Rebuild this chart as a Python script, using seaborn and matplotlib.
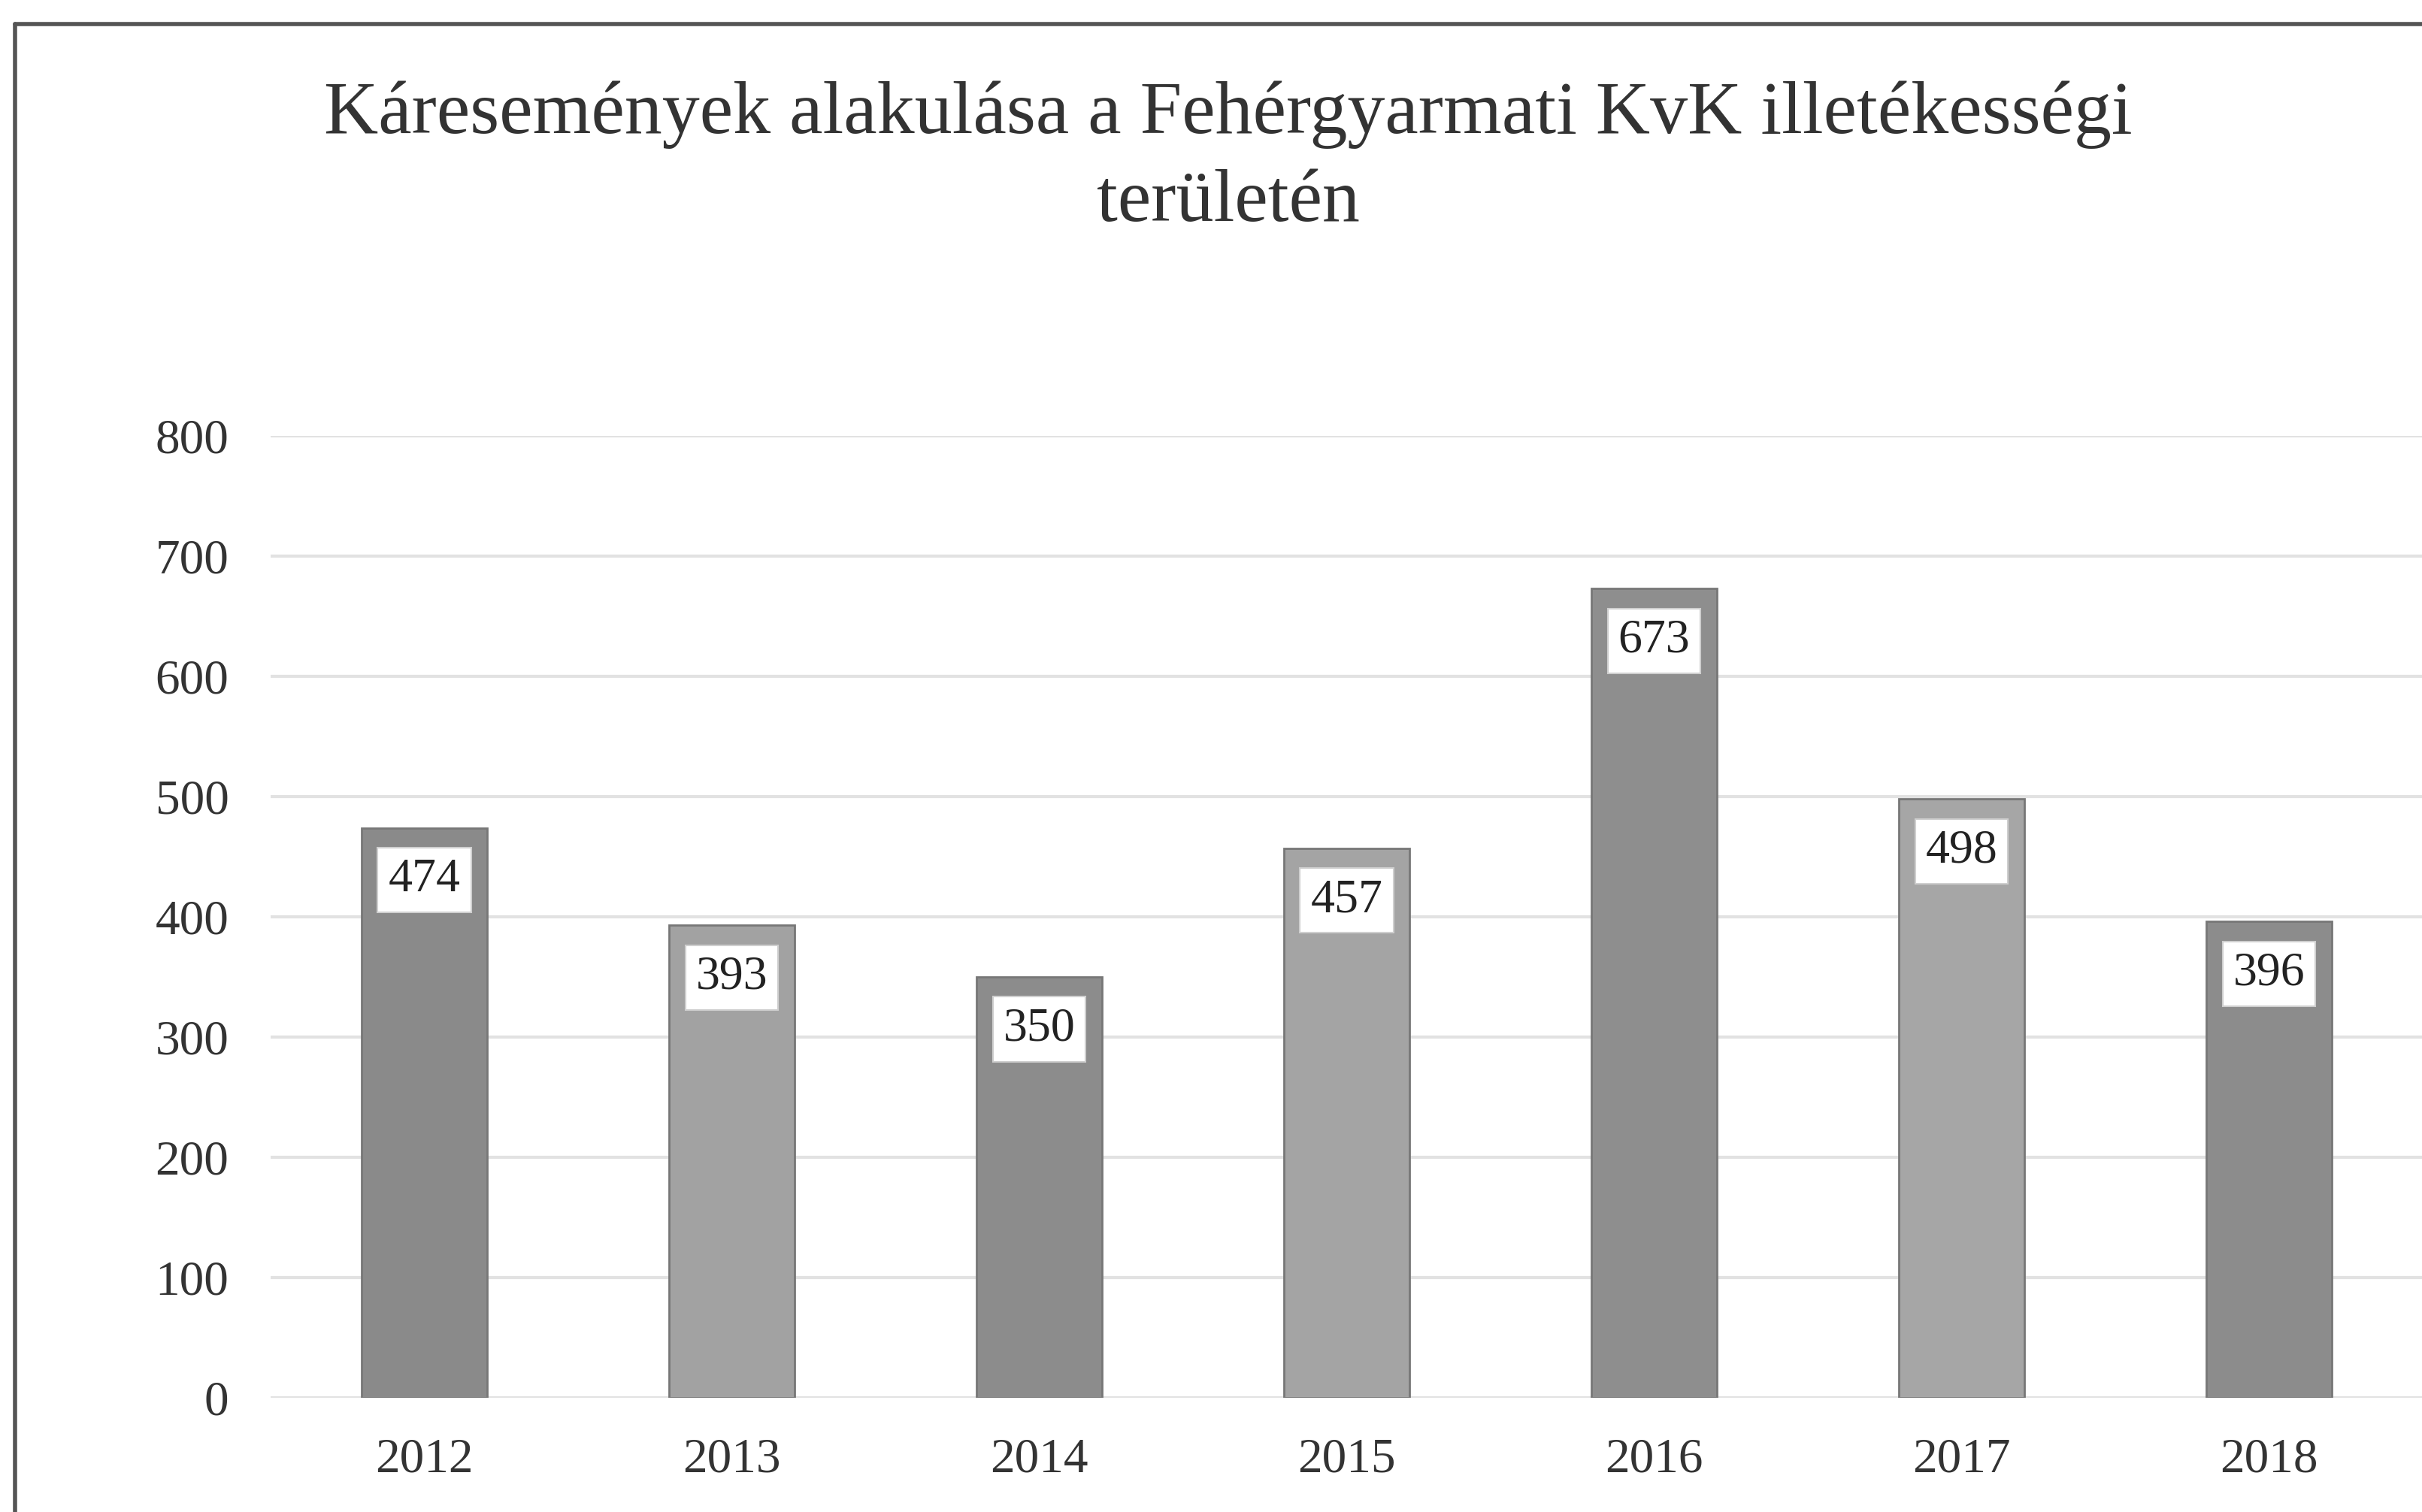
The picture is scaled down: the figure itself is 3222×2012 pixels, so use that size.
import matplotlib
matplotlib.use("Agg")
import matplotlib.pyplot as plt
import seaborn as sns
import pandas as pd
from matplotlib.lines import Line2D

years = ["2012", "2013", "2014", "2015", "2016", "2017", "2018"]
values = [474, 393, 350, 457, 673, 498, 396]
bar_colors = ["#8a8a8a", "#a2a2a2", "#8c8c8c", "#a4a4a4", "#8e8e8e", "#a6a6a6", "#8c8c8c"]
y_ticks = [0, 100, 200, 300, 400, 500, 600, 700, 800]
title = "Káresemények alakulása a Fehérgyarmati KvK illetékességi\nterületén"

sns.set_theme(style="white")
plt.rcParams["font.family"] = ["Liberation Serif", "DejaVu Serif"]

df = pd.DataFrame({"year": years, "value": values})

fig = plt.figure(figsize=(32.23, 20.12), dpi=100)
ax = fig.add_axes([360 / 3223, 152 / 2012, 1 - 360 / 3223, 1280 / 2012])

sns.barplot(data=df, x="year", y="value", hue="year", palette=bar_colors,
            legend=False, width=0.41, ax=ax, saturation=1,
            edgecolor="#777777", linewidth=2, zorder=3)

ax.set_ylim(0, 800)
ax.set_yticks(y_ticks)
ax.set_yticklabels([str(t) for t in y_ticks])
ax.grid(axis="y", color="#e2e2e2", linewidth=3, zorder=0)
ax.grid(axis="x", visible=False)
ax.set_axisbelow(True)
for s in ax.spines.values():
    s.set_visible(False)
ax.set_xlabel("")
ax.set_ylabel("")
ax.tick_params(axis="y", length=0, pad=40, labelsize=47, colors="#333333")
ax.tick_params(axis="x", length=0, pad=38, labelsize=47, colors="#333333")

for i, v in enumerate(values):
    ax.annotate(str(v), xy=(i, v), xytext=(0, -50), textcoords="offset points",
                ha="center", va="center", fontsize=46, color="#222222",
                bbox=dict(boxstyle="square,pad=0.22", facecolor="white",
                          edgecolor="#cfcfcf", linewidth=1.5), zorder=5)

fig.text(0.507, 1 - 108 / 2012, title, ha="center", va="top", fontsize=72,
         color="#333333", linespacing=1.38,
         transform=fig.transFigure)

# scanned frame (left and top edges visible)
fx = 20 / 3223
fy = 1 - 32 / 2012
fig.add_artist(Line2D([fx, fx], [0, fy], transform=fig.transFigure, color="#555555", linewidth=4))
fig.add_artist(Line2D([fx, 1], [fy, fy], transform=fig.transFigure, color="#555555", linewidth=4))

fig.savefig("out.png", dpi=100)
